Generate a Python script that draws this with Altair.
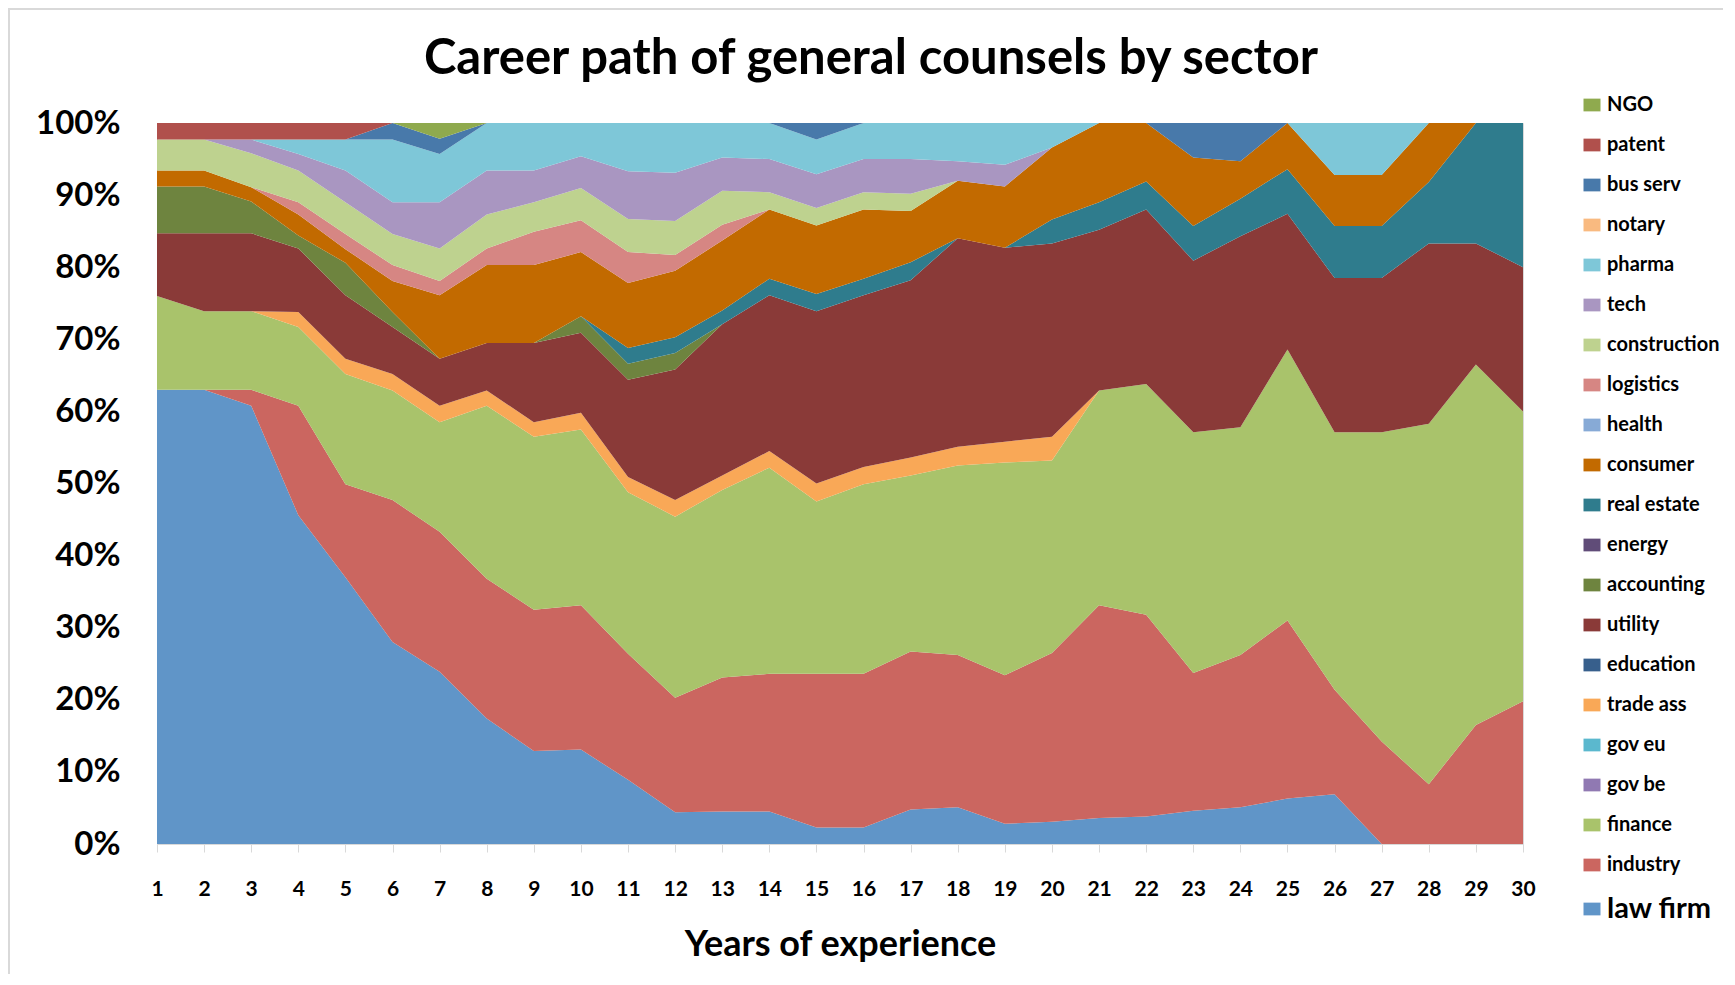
import altair as alt
import pandas as pd

years = list(range(1, 31))

# stacking order, bottom to top
sectors = ["law firm", "industry", "finance", "gov be", "gov eu", "trade ass", "education",
           "utility", "accounting", "energy", "real estate", "consumer", "health", "logistics",
           "construction", "tech", "pharma", "notary", "bus serv", "patent", "NGO"]

colors = ["#6095C8", "#CB6660", "#A9C36B", "#9079B2", "#5BB8CE", "#F9A857", "#375F8C",
          "#8A3A38", "#6E843F", "#604C78", "#2F7C8D", "#C26A00", "#87AAD6", "#D68683",
          "#BED28F", "#A996C1", "#7EC7D8", "#F9BA80", "#4879AA", "#B0504C", "#8FAA4E"]

law_firm = [63.0, 63.0, 60.8, 45.6, 37.0, 28.0, 23.9, 17.4, 12.9, 13.1, 8.9, 4.4, 4.5, 4.5, 2.3,
            2.3, 4.8, 5.1, 2.8, 3.1, 3.6, 3.8, 4.6, 5.1, 6.3, 6.9, 0, 0, 0, 0]
industry = [0, 0, 2.2, 15.2, 12.9, 19.7, 19.4, 19.4, 19.6, 20.0, 17.5, 15.9, 18.6, 19.1, 21.3,
            21.3, 21.9, 21.1, 20.6, 23.4, 29.5, 28.0, 19.1, 21.1, 24.7, 14.5, 14.2, 8.3, 16.5, 19.8]
finance = [13.0, 10.9, 10.9, 10.9, 15.3, 15.2, 15.2, 24.0, 24.0, 24.4, 22.4, 25.1, 26.0, 28.6, 23.9,
           26.3, 24.4, 26.3, 29.5, 26.7, 29.8, 32.0, 33.4, 31.6, 37.6, 35.7, 42.9, 50.0, 50.0, 40.2]
gov_be = [0] * 30
gov_eu = [0] * 30
trade_ass = [0, 0, 0, 2.1, 2.1, 2.3, 2.3, 2.1, 2.0, 2.3, 2.1, 2.3, 2.0, 2.3, 2.5,
             2.4, 2.5, 2.6, 2.9, 3.3, 0, 0, 0, 0, 0, 0, 0, 0, 0, 0]
education = [0] * 30
utility = [8.7, 10.8, 10.8, 8.8, 8.8, 6.5, 6.5, 6.6, 11.0, 11.1, 13.5, 18.1, 21.0, 21.6, 23.9,
           23.8, 24.6, 28.9, 26.9, 26.8, 22.3, 24.2, 23.8, 26.5, 18.8, 21.4, 21.4, 25.0, 16.8, 20.0]
accounting = [6.5, 6.5, 4.4, 1.8, 4.5, 2.1, 0, 0, 0, 2.3, 2.2, 2.3, 0, 0, 0,
              0, 0, 0, 0, 0, 0, 0, 0, 0, 0, 0, 0, 0, 0, 0]
energy = [0] * 30
real_estate = [0, 0, 0, 0, 0, 0, 0, 0, 0, 0, 2.2, 2.2, 1.9, 2.3, 2.4,
               2.3, 2.5, 0, 0, 3.3, 3.8, 3.9, 4.8, 5.2, 6.2, 7.2, 7.2, 8.5, 16.7, 20.0]
consumer = [2.2, 2.2, 2.0, 2.9, 1.9, 4.3, 8.8, 10.8, 10.8, 8.9, 9.0, 9.2, 9.7, 9.6, 9.5,
            9.6, 7.1, 8.0, 8.5, 10.0, 11.0, 8.1, 9.5, 5.2, 6.4, 7.1, 7.1, 8.2, 0, 0]
health = [0] * 30
logistics = [0, 0, 0, 1.7, 2.1, 2.2, 2.0, 2.3, 4.6, 4.4, 4.3, 2.2, 2.2, 0, 0,
             0, 0, 0, 0, 0, 0, 0, 0, 0, 0, 0, 0, 0, 0, 0]
construction = [4.3, 4.3, 4.7, 4.4, 4.4, 4.3, 4.5, 4.7, 4.1, 4.5, 4.6, 4.7, 4.7, 2.4, 2.4,
                2.4, 2.4, 0, 0, 0, 0, 0, 0, 0, 0, 0, 0, 0, 0, 0]
tech = [0, 0, 1.9, 2.3, 4.4, 4.4, 6.4, 6.1, 4.4, 4.4, 6.6, 6.7, 4.6, 4.6, 4.7,
        4.6, 4.8, 2.7, 3.0, 0, 0, 0, 0, 0, 0, 0, 0, 0, 0, 0]
pharma = [0, 0, 0, 2.0, 4.3, 8.7, 6.7, 6.6, 6.6, 4.6, 6.7, 6.9, 4.8, 5.0, 4.8,
          5.0, 5.0, 5.3, 5.8, 3.4, 0, 0, 0, 0, 0, 7.2, 7.2, 0, 0, 0]
notary = [0] * 30
bus_serv = [0, 0, 0, 0, 0, 2.3, 2.1, 0, 0, 0, 0, 0, 0, 0, 2.3,
            0, 0, 0, 0, 0, 0, 0, 4.8, 5.3, 0, 0, 0, 0, 0, 0]
patent = [2.3, 2.3, 2.3, 2.3, 2.3, 0, 0, 0, 0, 0, 0, 0, 0, 0, 0,
          0, 0, 0, 0, 0, 0, 0, 0, 0, 0, 0, 0, 0, 0, 0]
ngo = [0, 0, 0, 0, 0, 0, 2.2, 0, 0, 0, 0, 0, 0, 0, 0,
       0, 0, 0, 0, 0, 0, 0, 0, 0, 0, 0, 0, 0, 0, 0]

series = [law_firm, industry, finance, gov_be, gov_eu, trade_ass, education, utility,
          accounting, energy, real_estate, consumer, health, logistics, construction, tech,
          pharma, notary, bus_serv, patent, ngo]

rows = []
for idx, (name, vals) in enumerate(zip(sectors, series)):
    for yr, v in zip(years, vals):
        rows.append({"sector": name, "idx": idx, "year": yr, "share": v})
df = pd.DataFrame(rows)

legend_order = sectors[::-1]
legend_colors = colors[::-1]

FONT = "Lato"
W, H = 1366, 721
PAD = {"left": 149, "top": 115, "right": 200, "bottom": 130}

areas = alt.Chart(df).mark_area(interpolate="linear").encode(
    x=alt.X("year:Q",
            scale=alt.Scale(domain=[1, 30], nice=False, zero=False),
            axis=alt.Axis(values=years, format="d", title="Years of experience",
                          labelFont=FONT, labelFontSize=21, labelFontWeight="bold",
                          labelColor="#000000", labelPadding=26, tickSize=8,
                          tickColor="#D9D9D9", domainColor="#D9D9D9", grid=False,
                          titleFont=FONT, titleFontSize=36, titleFontWeight="bold",
                          titleColor="#000000", titlePadding=28, labelFlush=False)),
    y=alt.Y("share:Q", stack="normalize",
            scale=alt.Scale(domain=[0, 1]),
            axis=alt.Axis(values=[i / 10 for i in range(11)], format=".0%", title=None,
                          labelFont=FONT, labelFontSize=33, labelFontWeight="bold",
                          labelColor="#000000", labelPadding=37, ticks=False,
                          domain=False, grid=False)),
    color=alt.Color("sector:N",
                    scale=alt.Scale(domain=legend_order, range=legend_colors),
                    legend=alt.Legend(title=None, orient="none", legendX=1425, legendY=-28,
                                      symbolType="M-1,-0.75H1V0.75H-1Z", symbolSize=289,
                                      symbolStrokeWidth=0, labelFont=FONT,
                                      labelFontSize={"expr": "datum.label == 'law firm' ? 29 : 20"},
                                      labelFontWeight="bold", labelColor="#000000",
                                      labelOffset=5, rowPadding=20, padding=0)),
    order=alt.Order("idx:Q", sort="ascending"),
)

# light grey frame around the whole chart
frame = alt.Chart(pd.DataFrame({"f": [0]})).mark_rect(
    fill=None, stroke="#D9D9D9", strokeWidth=2
).encode(
    x=alt.value(-PAD["left"] + 1),
    x2=alt.value(W + PAD["right"] + 10),
    y=alt.value(-PAD["top"] + 1),
    y2=alt.value(H + PAD["bottom"] + 40),
)

chart = alt.layer(frame, areas).properties(
    width=W,
    height=H,
    padding=PAD,
    autosize=alt.AutoSizeParams(type="none"),
    title=alt.TitleParams("Career path of general counsels by sector", font=FONT,
                          fontSize=49, fontWeight="bold", color="#000000",
                          anchor="middle", dx=31, offset=0, dy=76),
).configure_view(stroke="#D9D9D9", strokeWidth=1)

chart.save("out.html", embed_options={"renderer": "svg", "actions": False})
